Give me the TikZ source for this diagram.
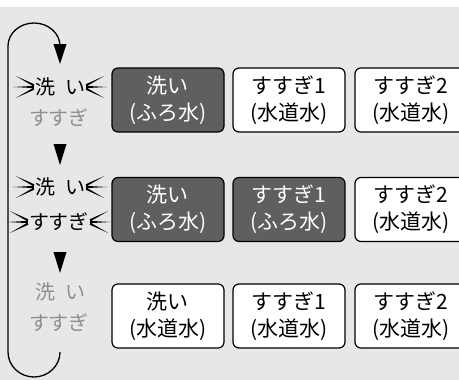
\documentclass[tikz,border=0pt]{standalone}
\usepackage{fontspec}
\setmainfont{Noto Sans CJK JP}
\definecolor{bg}{HTML}{E6E7E8}
\definecolor{darkfill}{HTML}{5E5F61}
\definecolor{txtgray}{HTML}{8E8E8E}
\tikzset{
  box/.style={draw=black, line width=1.2pt, rounded corners=6pt, minimum width=112pt,
    minimum height=64pt, align=center, inner sep=0pt,
    font=\fontsize{21}{27}\selectfont},
  darkbox/.style={box, fill=darkfill, text=white},
  lightbox/.style={box, fill=white, text=black},
  lbl/.style={inner sep=0pt, font=\fontsize{20}{20}\selectfont},
  graylbl/.style={lbl, text=txtgray},
  spark/.style={fill=black},
  loopline/.style={line width=1.3pt},
  tri/.style={fill=black}
}
\newcommand\mysparks[1]{%
  \fill[spark, shift={(#1.west)}] (-22,0) -- (-1,-1.1) -- (-1,1.1) -- cycle
    (-19,-11) -- (-1.5,-0.8) -- (-0.5,-2.7) -- cycle
    (-19,11) -- (-1.5,0.8) -- (-0.5,2.7) -- cycle;
  \fill[spark, shift={(#1.east)}] (22,0) -- (1,-1.1) -- (1,1.1) -- cycle
    (19,-11) -- (1.5,-0.8) -- (0.5,-2.7) -- cycle
    (19,11) -- (1.5,0.8) -- (0.5,2.7) -- cycle;}
\begin{document}
\begin{tikzpicture}[x=1pt, y=-1pt]
\useasboundingbox (0,0) rectangle (459,380);
\fill[white] (0,0) rectangle (459,380);
\fill[bg] (0,7) rectangle (459,380);
\begin{scope}
\clip (0,0) rectangle (459,380);
% row 1
\node[darkbox]  (r1a) at (168,100)   {洗い\\(ふろ水)};
\node[lightbox] (r1b) at (289,100)   {すすぎ1\\(水道水)};
\node[lightbox] (r1c) at (411,100)   {すすぎ2\\(水道水)};
% row 2
\node[darkbox]  (r2a) at (168,209.5) {洗い\\(ふろ水)};
\node[darkbox]  (r2b) at (289,209.5) {すすぎ1\\(ふろ水)};
\node[lightbox] (r2c) at (411,209.5) {すすぎ2\\(水道水)};
% row 3
\node[lightbox] (r3a) at (168,316)   {洗い\\(水道水)};
\node[lightbox] (r3b) at (289,316)   {すすぎ1\\(水道水)};
\node[lightbox] (r3c) at (411,316)   {すすぎ2\\(水道水)};
\end{scope}
% left labels
\node[lbl]     (w1) at (60,87)  {洗\hspace{0.5em}い};
\node[graylbl] (s1) at (59,118) {すすぎ};
\node[lbl]     (w2) at (60,187) {洗\hspace{0.5em}い};
\node[lbl]     (s2) at (59,222) {すすぎ};
\node[graylbl] (w3) at (60,292) {洗\hspace{0.5em}い};
\node[graylbl] (s3) at (59,323) {すすぎ};
\mysparks{w1}
\mysparks{w2}
\mysparks{s2}
% down triangles
\fill[tri] (53.5,144) -- (66.5,144) -- (60,165) -- cycle;
\fill[tri] (53.5,252) -- (66.5,252) -- (60,273) -- cycle;
% loop
\draw[loopline] (60,46) arc[start angle=0, end angle=-180, x radius=26, y radius=23]
  -- (8,352) arc[start angle=180, end angle=0, x radius=26, y radius=25];
\fill[tri] (53.5,44) -- (66.5,44) -- (60,64) -- cycle;
\end{tikzpicture}
\end{document}
